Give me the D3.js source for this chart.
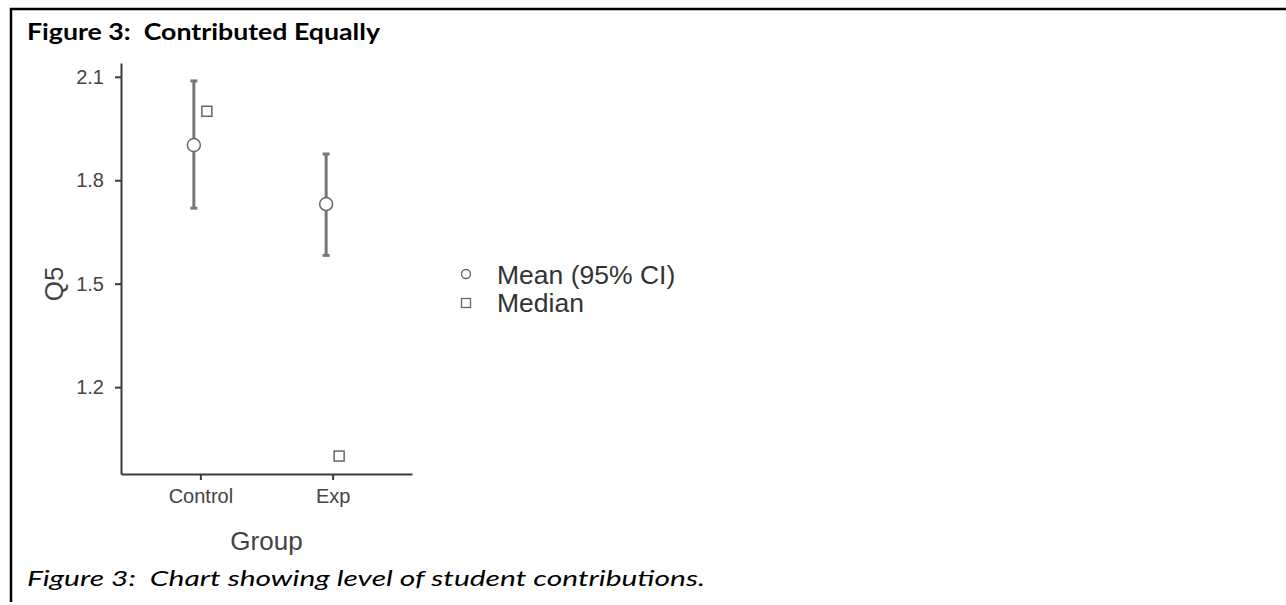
<!DOCTYPE html>
<html>
<head>
<meta charset="utf-8">
<script src="https://cdn.jsdelivr.net/npm/d3@7"></script>
<style>
  body { margin: 0; background: #fff; }
  svg { display: block; }
</style>
</head>
<body>
<script>
'use strict'

var width = 1286
var height = 605

// data
var groups = ["Control", "Exp"]
var means = [1.902, 1.731]
var ciLow = [1.719, 1.582]
var ciHigh = [2.088, 1.876]
var medians = [2.0, 1.0]
var yTicks = [1.2, 1.5, 1.8, 2.1]
var legendLabels = ["Mean (95% CI)", "Median"]

var svg = d3.select("body").append("svg")
  .attr("width", width)
  .attr("height", height)

// frame round the figure
svg.append("line")
  .attr("x1", 10).attr("x2", width)
  .attr("y1", 9).attr("y2", 9)
  .attr("stroke", "#000").attr("stroke-width", 2.5)
svg.append("line")
  .attr("x1", 11).attr("x2", 11)
  .attr("y1", 8).attr("y2", 602)
  .attr("stroke", "#000").attr("stroke-width", 2.5)

svg.append("text")
  .attr("x", 27).attr("y", 40)
  .attr("font-family", "Lato, 'Open Sans', sans-serif")
  .attr("font-weight", "bold")
  .attr("font-size", 22.5)
  .attr("textLength", 353)
  .attr("lengthAdjust", "spacingAndGlyphs")
  .attr("xml:space", "preserve")
  .text("Figure 3:  Contributed Equally")

svg.append("text")
  .attr("x", 27).attr("y", 586)
  .attr("font-family", "Lato, 'Open Sans', sans-serif")
  .attr("font-style", "italic")
  .attr("font-size", 22)
  .attr("textLength", 678)
  .attr("lengthAdjust", "spacingAndGlyphs")
  .attr("xml:space", "preserve")
  .text("Figure 3:  Chart showing level of student contributions.")

var x = d3.scalePoint()
  .domain(groups)
  .range([121, 412])
  .padding(0.6)

var y = d3.scaleLinear()
  .domain([0.948, 2.14])
  .range([474, 63])

var axisColor = "#3a3a3a"
var barColor = "#777"
var font = "'Liberation Sans', Arial, sans-serif"

var gx = svg.append("g")
  .attr("transform", "translate(0,474)")
  .call(d3.axisBottom(x).tickSize(6).tickPadding(9).tickSizeOuter(0))
var gy = svg.append("g")
  .attr("transform", "translate(121,0)")
  .call(d3.axisLeft(y).tickValues(yTicks).tickFormat(d3.format(".1f")).tickSize(6).tickPadding(11).tickSizeOuter(0))

;[gx, gy].forEach(function (g) {
  g.select(".domain").attr("stroke", axisColor).attr("stroke-width", 2)
  g.selectAll(".tick line").attr("stroke", axisColor).attr("stroke-width", 2)
  g.selectAll(".tick text")
    .attr("fill", "#444")
    .attr("font-family", font)
    .attr("font-size", 20)
})

svg.append("text")
  .attr("x", x.range()[0] + (x.range()[1] - x.range()[0]) / 2)
  .attr("y", 550)
  .attr("text-anchor", "middle")
  .attr("fill", "#444")
  .attr("font-family", font)
  .attr("font-size", 26)
  .text("Group")

svg.append("text")
  .attr("transform", "translate(63,284) rotate(-90)")
  .attr("text-anchor", "middle")
  .attr("fill", "#444")
  .attr("font-family", font)
  .attr("font-size", 26)
  .text("Q5")

var dodge = 6.5
var points = groups.map(function (g, i) {
  return { group: g, mean: means[i], lo: ciLow[i], hi: ciHigh[i], median: medians[i] }
})

var bars = svg.append("g")
bars.selectAll("line.ci")
  .data(points)
  .enter()
  .append("line")
  .attr("class", "ci")
  .attr("x1", d => x(d.group) - dodge)
  .attr("x2", d => x(d.group) - dodge)
  .attr("y1", d => y(d.lo))
  .attr("y2", d => y(d.hi))
  .attr("stroke", barColor)
  .attr("stroke-width", 3)

bars.selectAll("line.capTop")
  .data(points)
  .enter()
  .append("line")
  .attr("x1", d => x(d.group) - dodge - 3.5)
  .attr("x2", d => x(d.group) - dodge + 3.5)
  .attr("y1", d => y(d.hi))
  .attr("y2", d => y(d.hi))
  .attr("stroke", barColor)
  .attr("stroke-width", 3)

bars.selectAll("line.capBottom")
  .data(points)
  .enter()
  .append("line")
  .attr("x1", d => x(d.group) - dodge - 3.5)
  .attr("x2", d => x(d.group) - dodge + 3.5)
  .attr("y1", d => y(d.lo))
  .attr("y2", d => y(d.lo))
  .attr("stroke", barColor)
  .attr("stroke-width", 3)

bars.selectAll("circle")
  .data(points)
  .enter()
  .append("circle")
  .attr("cx", d => x(d.group) - dodge)
  .attr("cy", d => y(d.mean))
  .attr("r", 6.5)
  .attr("fill", "#fff")
  .attr("stroke", "#666")
  .attr("stroke-width", 1.5)

bars.selectAll("rect")
  .data(points)
  .enter()
  .append("rect")
  .attr("x", d => x(d.group) + dodge - 5)
  .attr("y", d => y(d.median) - 5)
  .attr("width", 10)
  .attr("height", 10)
  .attr("fill", "#fff")
  .attr("stroke", "#666")
  .attr("stroke-width", 1.5)

// legend
var legend = svg.append("g").attr("transform", "translate(466,274)")
legend.append("circle")
  .attr("cx", 0).attr("cy", 0).attr("r", 4.5)
  .attr("fill", "#fff").attr("stroke", "#666").attr("stroke-width", 1.3)
legend.append("rect")
  .attr("x", -4.5).attr("y", 24.5).attr("width", 9).attr("height", 9)
  .attr("fill", "#fff").attr("stroke", "#666").attr("stroke-width", 1.3)
legend.selectAll("text")
  .data(legendLabels)
  .enter()
  .append("text")
  .attr("x", 31)
  .attr("y", (d, i) => 10 + i * 28)
  .attr("fill", "#333")
  .attr("font-family", font)
  .attr("font-size", 26.5)
  .text(d => d)
</script>
</body>
</html>
